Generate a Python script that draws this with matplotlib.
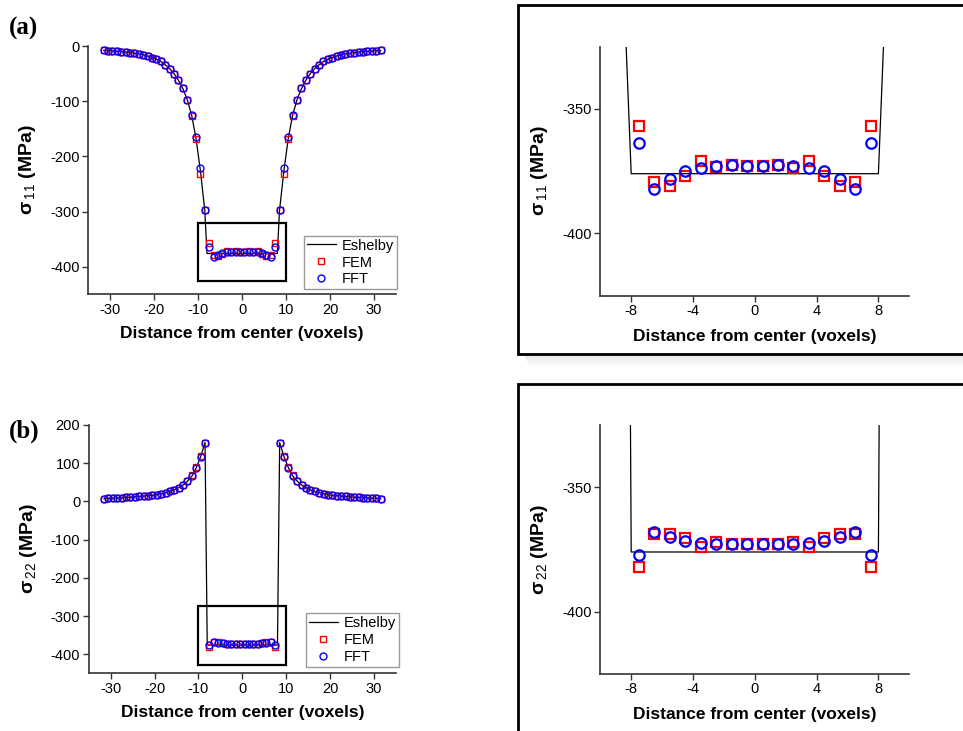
import numpy as np
import matplotlib
matplotlib.use("Agg")
import matplotlib.pyplot as plt
from matplotlib.patches import Rectangle
from matplotlib.lines import Line2D

plt.rcParams['font.family'] = ['Liberation Sans', 'DejaVu Sans']
plt.rcParams['mathtext.fontset'] = 'custom'
plt.rcParams['mathtext.rm'] = 'Liberation Sans'
plt.rcParams['mathtext.bf'] = 'Liberation Sans:bold'
plt.rcParams['mathtext.it'] = 'Liberation Sans:italic'
plt.rcParams['axes.unicode_minus'] = False

# ---------------- data ----------------
# sample positions (voxel centres) -31.5 ... 31.5
x_pos = np.arange(-31.5, 32.0, 1.0)

# sigma_11 (MPa)
s11_fft = [-8, -8.5, -9, -9.5, -10, -11, -12, -13, -14, -16, -18, -21, -24, -28,
           -34, -41, -50, -62, -77, -97, -125, -165, -222, -297,
           -363.7, -382.3, -378.0, -375.0, -373.6, -373.0, -372.7, -372.8,
           -372.8, -372.7, -373.0, -373.6, -375.0, -378.0, -382.3, -363.7,
           -297, -222, -165, -125, -97, -77, -62, -50, -41, -34, -28, -24, -21,
           -18, -16, -14, -13, -12, -11, -10, -9.5, -9, -8.5, -8]
s11_fem = [-8, -8.5, -9, -9.5, -10, -11, -12, -13, -14, -16, -18, -21, -24, -28,
           -34, -41, -50, -62, -77, -97, -126, -169, -232, -298,
           -356.9, -379.3, -380.8, -377.0, -371.0, -373.3, -372.4, -373.0,
           -373.0, -372.4, -373.6, -371.0, -377.0, -380.8, -379.3, -356.9,
           -298, -232, -169, -126, -97, -77, -62, -50, -41, -34, -28, -24, -21,
           -18, -16, -14, -13, -12, -11, -10, -9.5, -9, -8.5, -8]

# sigma_22 (MPa)
s22_fft = [7.5, 8, 8.5, 9, 10, 10.5, 11, 12, 13, 14, 15, 16, 18, 20, 23, 26,
           30, 36, 43, 53, 66, 88, 116, 153,
           -377.2, -367.8, -370.1, -371.7, -372.5, -372.7, -372.8, -372.8,
           -372.8, -372.8, -372.7, -372.5, -371.7, -370.1, -367.8, -377.2,
           153, 116, 88, 66, 53, 43, 36, 30, 26, 23, 20, 18, 16, 15, 14, 13, 12,
           11, 10.5, 10, 9, 8.5, 8, 7.5]
s22_fem = [7.5, 8, 8.5, 9, 10, 10.5, 11, 12, 13, 14, 15, 16, 18, 20, 23, 26,
           30, 36, 43, 53, 68, 91, 120, 154,
           -381.9, -368.8, -368.9, -370.5, -373.9, -372.1, -372.9, -372.9,
           -372.9, -372.9, -372.1, -373.9, -370.5, -368.9, -368.8, -381.9,
           154, 120, 91, 68, 53, 43, 36, 30, 26, 23, 20, 18, 16, 15, 14, 13, 12,
           11, 10.5, 10, 9, 8.5, 8, 7.5]

# Eshelby analytic solution: outside points + inclusion boundary at +-8
esh_x = [-31.5, -30.5, -29.5, -28.5, -27.5, -26.5, -25.5, -24.5, -23.5, -22.5,
         -21.5, -20.5, -19.5, -18.5, -17.5, -16.5, -15.5, -14.5, -13.5, -12.5,
         -11.5, -10.5, -9.5, -8.5, -8.0, 8.0, 8.5, 9.5, 10.5, 11.5, 12.5, 13.5,
         14.5, 15.5, 16.5, 17.5, 18.5, 19.5, 20.5, 21.5, 22.5, 23.5, 24.5, 25.5,
         26.5, 27.5, 28.5, 29.5, 30.5, 31.5]
esh_s11 = [-8, -8.5, -9, -9.5, -10, -11, -12, -13, -14, -16, -18, -21, -24, -28,
           -34, -41, -50, -62, -77, -97, -125, -167, -226, -298, -376,
           -376, -298, -226, -167, -125, -97, -77, -62, -50, -41, -34, -28, -24,
           -21, -18, -16, -14, -13, -12, -11, -10, -9.5, -9, -8.5, -8]
esh_s22 = [7.5, 8, 8.5, 9, 10, 10.5, 11, 12, 13, 14, 15, 16, 18, 20, 23, 26, 30,
           36, 43, 53, 66, 88, 117, 154, -376,
           -376, 154, 117, 88, 66, 53, 43, 36, 30, 26, 23, 20, 18, 16, 15, 14,
           13, 12, 11, 10.5, 10, 9, 8.5, 8, 7.5]

main_xticks = [-30, -20, -10, 0, 10, 20, 30]
inset_xticks = [-8, -4, 0, 4, 8]
inset_yticks = [-350, -400]

# ---------------- figure ----------------
W, H = 963, 731
fig = plt.figure(figsize=(W / 100, H / 100), dpi=100)


def ax_at(l, t, r, b):
    return fig.add_axes([l / W, 1 - b / H, (r - l) / W, (b - t) / H])


spine_col = '#333333'


def style(ax):
    for s in ['top', 'right']:
        ax.spines[s].set_visible(False)
    for s in ['left', 'bottom']:
        ax.spines[s].set_color(spine_col)
        ax.spines[s].set_linewidth(1.2)
    ax.tick_params(direction='out', length=4, width=1.0, color=spine_col,
                   labelsize=10.5, pad=2)


# right-hand framed boxes with shadow
for (top, bot) in [(5, 354), (384, 745)]:
    for k in range(6):
        fig.patches.append(Rectangle(((524 + k) / W, 1 - (bot + 2 + k * 2) / H),
                                     460 / W, 2 / H,
                                     transform=fig.transFigure, facecolor='k',
                                     alpha=0.10 - k * 0.015, edgecolor='none', zorder=0))
    fig.patches.append(Rectangle((518 / W, 1 - bot / H), 460 / W, (bot - top) / H,
                                 transform=fig.transFigure, facecolor='white',
                                 edgecolor='black', linewidth=2.0, zorder=1))

LBL_X = 12.5
LBL_Y = 14

# panel (a) main
axa = ax_at(88.3, 46, 396, 294.3)
style(axa)
axa.plot(esh_x, esh_s11, color='black', lw=0.9, zorder=2)
axa.plot(x_pos, s11_fem, ls='none', marker='s', ms=4.2, mfc='none', mec='red', mew=1.0, zorder=3)
axa.plot(x_pos, s11_fft, ls='none', marker='o', ms=5.0, mfc='none', mec='blue', mew=1.0, zorder=4)
axa.add_patch(Rectangle((-10, -425), 20, 105, fill=False, edgecolor='black', lw=1.6, zorder=5))
axa.set_xlim(-35, 35)
axa.set_ylim(-450, 0)
axa.set_xticks(main_xticks)
axa.set_yticks([0, -100, -200, -300, -400])
axa.set_xlabel('Distance from center (voxels)', fontsize=LBL_X, fontweight='bold', labelpad=7)
axa.set_ylabel(r'σ$_{\,11}$ (MPa)', fontsize=LBL_Y, fontweight='bold')
axa.yaxis.set_label_coords(-0.163, 0.5)

# panel (b) main
axb = ax_at(88.7, 425, 396, 673.3)
style(axb)
axb.plot(esh_x, esh_s22, color='black', lw=0.9, zorder=2)
axb.plot(x_pos, s22_fem, ls='none', marker='s', ms=4.2, mfc='none', mec='red', mew=1.0, zorder=3)
axb.plot(x_pos, s22_fft, ls='none', marker='o', ms=5.0, mfc='none', mec='blue', mew=1.0, zorder=4)
axb.add_patch(Rectangle((-10, -428), 20, 153, fill=False, edgecolor='black', lw=1.6, zorder=5))
axb.set_xlim(-35, 35)
axb.set_ylim(-450, 200)
axb.set_xticks(main_xticks)
axb.set_yticks([200, 100, 0, -100, -200, -300, -400])
axb.set_xlabel('Distance from center (voxels)', fontsize=LBL_X, fontweight='bold', labelpad=7)
axb.set_ylabel(r'σ$_{\,22}$ (MPa)', fontsize=LBL_Y, fontweight='bold')
axb.yaxis.set_label_coords(-0.163, 0.5)

handles = [Line2D([], [], color='black', lw=0.9),
           Line2D([], [], ls='none', marker='s', ms=4.2, mfc='none', mec='red', mew=1.0),
           Line2D([], [], ls='none', marker='o', ms=5.0, mfc='none', mec='blue', mew=1.0)]
for ax, anchor in [(axa, (1.003, 0.02)), (axb, (1.01, 0.025))]:
    leg = ax.legend(handles, ['Eshelby', 'FEM', 'FFT'], loc='lower right',
                    bbox_to_anchor=anchor, borderaxespad=0, fontsize=10.5,
                    fancybox=False, framealpha=1, edgecolor='#999999',
                    handlelength=2.0, handletextpad=0.4, labelspacing=0.2,
                    borderpad=0.2)
    leg.get_frame().set_linewidth(1.0)
    leg.set_zorder(6)

# insets
for (t, b, s_fem, s_fft, esh, lab) in [(46.7, 295.7, s11_fem, s11_fft, esh_s11, '11'),
                                       (425, 674, s22_fem, s22_fft, esh_s22, '22')]:
    ax = ax_at(600.3, t, 909.3, b)
    ax.set_zorder(3)
    ax.patch.set_alpha(0)
    style(ax)
    ax.plot(esh_x, esh, color='black', lw=0.9, zorder=2)
    ax.plot(x_pos, s_fem, ls='none', marker='s', ms=6.5, mfc='none', mec='red', mew=1.6, zorder=3)
    ax.plot(x_pos, s_fft, ls='none', marker='o', ms=7.5, mfc='none', mec='blue', mew=1.6, zorder=4)
    ax.set_xlim(-10, 10)
    ax.set_ylim(-425, -325)
    ax.set_xticks(inset_xticks)
    ax.set_yticks(inset_yticks)
    ax.set_xlabel('Distance from center (voxels)', fontsize=LBL_X, fontweight='bold', labelpad=8)
    ax.set_ylabel(r'σ$_{\,%s}$ (MPa)' % lab, fontsize=LBL_Y, fontweight='bold')
    ax.yaxis.set_label_coords(-0.163, 0.5)

fig.text(9 / W, 1 - 28 / H, '(a)', fontsize=18, fontweight='bold',
         family=['Liberation Serif'], va='center', ha='left')
fig.text(9 / W, 1 - 431 / H, '(b)', fontsize=18, fontweight='bold',
         family=['Liberation Serif'], va='center', ha='left')

fig.savefig('out.png', dpi=100)
